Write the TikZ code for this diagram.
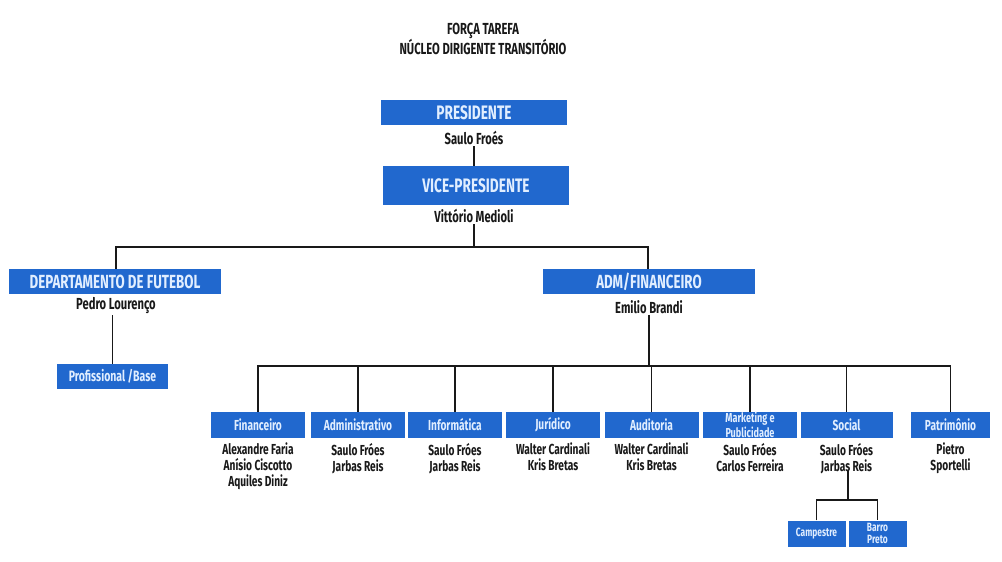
\documentclass[tikz,border=0pt]{standalone}
\usepackage{fontspec}
\setmainfont[FakeStretch=0.7]{Fira Sans}
\definecolor{boxblue}{RGB}{33,104,206}
\definecolor{boxtext}{RGB}{225,238,255}
\definecolor{ink}{RGB}{25,25,25}
\begin{document}
\begin{tikzpicture}[x=1pt,y=-1pt,
  bx/.style={fill=boxblue,text=boxtext,inner sep=0pt,font=\bfseries\fontsize{19.5}{21}\selectfont},
  sbx/.style={fill=boxblue,text=boxtext,inner sep=0pt,minimum width=94pt,minimum height=26pt,font=\bfseries\fontsize{14.5}{15}\selectfont,align=center},
  tbx/.style={fill=boxblue,text=boxtext,inner sep=0pt,minimum height=26pt,font=\bfseries\fontsize{12}{12.5}\selectfont,align=center},
  nm/.style={text=ink,inner sep=1pt,font=\bfseries\fontsize{16}{18}\selectfont,align=center},
  snm/.style={text=ink,inner sep=1pt,anchor=north,font=\bfseries\fontsize{14.5}{16}\selectfont,align=center},
  ln/.style={draw=ink,line width=1.6pt}]
\useasboundingbox (0,0) rectangle (1002,562);
\fill[white] (0,0) rectangle (1002,562);
% title
\node[text=ink,font=\bfseries\fontsize{16}{19}\selectfont,align=center] (title) at (483,39) {FORÇA TAREFA\\NÚCLEO DIRIGENTE TRANSITÓRIO};
% top
\node[bx,minimum width=186pt,minimum height=25pt] (pres) at (474,112.5) {PRESIDENTE};
\node[nm] (presname) at (474,138) {Saulo Froés};
\node[bx,minimum width=186pt,minimum height=39pt] (vice) at (476,185.5) {VICE-PRESIDENTE};
\node[nm] (vicename) at (474,216) {Vittório Medioli};
\draw[ln] (presname.south) -- (presname.south |- vice.north);
\coordinate (bus1) at (474,247);
\draw[ln] (vicename.south) -- (bus1);
% level 2
\node[bx,font=\bfseries\fontsize{19}{20}\selectfont,minimum width=212pt,minimum height=25pt] (dept) at (115,281.5) {DEPARTAMENTO DE FUTEBOL};
\node[nm] (deptname) at (116,306) {Pedro Lourenço};
\node[bx,font=\bfseries\fontsize{19}{20}\selectfont,minimum width=212pt,minimum height=25pt] (adm) at (649,281.5) {ADM/FINANCEIRO};
\node[nm] (admname) at (649,307) {Emilio Brandi};
\coordinate (bl) at (116,247);
\coordinate (br) at (648,247);
\draw[ln] (dept.north -| bl) -- (bl) -- (br) -- (adm.north -| br);
\node[sbx,font=\bfseries\fontsize{15}{16}\selectfont,minimum width=111pt,minimum height=25pt] (prof) at (112.5,376.5) {Profissional /Base};
\draw[ln] (deptname.south -| prof.north) -- (prof.north);
% level 3
\coordinate (bus2) at (649,366);
\draw[ln] (admname.south) -- (bus2);
\node[sbx] (fin) at (258,425) {Financeiro};
\node[sbx] (adm2) at (358,425) {Administrativo};
\node[sbx] (inf) at (455,425) {Informática};
\node[sbx] (jur) at (553,425) {Jurídico};
\node[sbx] (aud) at (651.5,425) {Auditoria};
\node[sbx,font=\bfseries\fontsize{13}{13}\selectfont] (mkt) at (750,425) {Marketing e\\Publicidade};
\node[sbx,minimum width=92pt] (soc) at (846.5,425) {Social};
\node[sbx,minimum width=79pt] (pat) at (950.5,425) {Patrimônio};
\draw[ln] (fin.north) -- (fin.north |- bus2) -- (pat.north |- bus2) -- (pat.north);
\foreach \n in {adm2,inf,jur,aud,mkt,soc} \draw[ln] (\n.north) -- (\n.north |- bus2);
% names
\node[snm] (finname) at (258,442) {Alexandre Faria\\Anísio Ciscotto\\Aquiles Diniz};
\node[snm] (adm2name) at (358,442) {Saulo Fróes\\Jarbas Reis};
\node[snm] (infname) at (455,442) {Saulo Fróes\\Jarbas Reis};
\node[snm] (jurname) at (553,442) {Walter Cardinali\\Kris Bretas};
\node[snm] (audname) at (651.5,442) {Walter Cardinali\\Kris Bretas};
\node[snm] (mktname) at (750,442) {Saulo Fróes\\Carlos Ferreira};
\node[snm] (patname) at (950.5,442) {Pietro\\Sportelli};
% social sub
\node[tbx,minimum width=58pt] (camp) at (816.5,533.5) {Campestre};
\node[tbx,minimum width=58pt] (barro) at (877.5,533.5) {Barro\\Preto};
\coordinate (sjoin) at (848,500);
\coordinate (stop) at (848,470);
\draw[ln] (camp.north) -- (camp.north |- sjoin) -- (barro.north |- sjoin) -- (barro.north);
\draw[ln] (stop) -- (sjoin);
\node[snm] (socname) at (846.5,442) {Saulo Fróes\\Jarbas Reis};
\end{tikzpicture}
\end{document}
